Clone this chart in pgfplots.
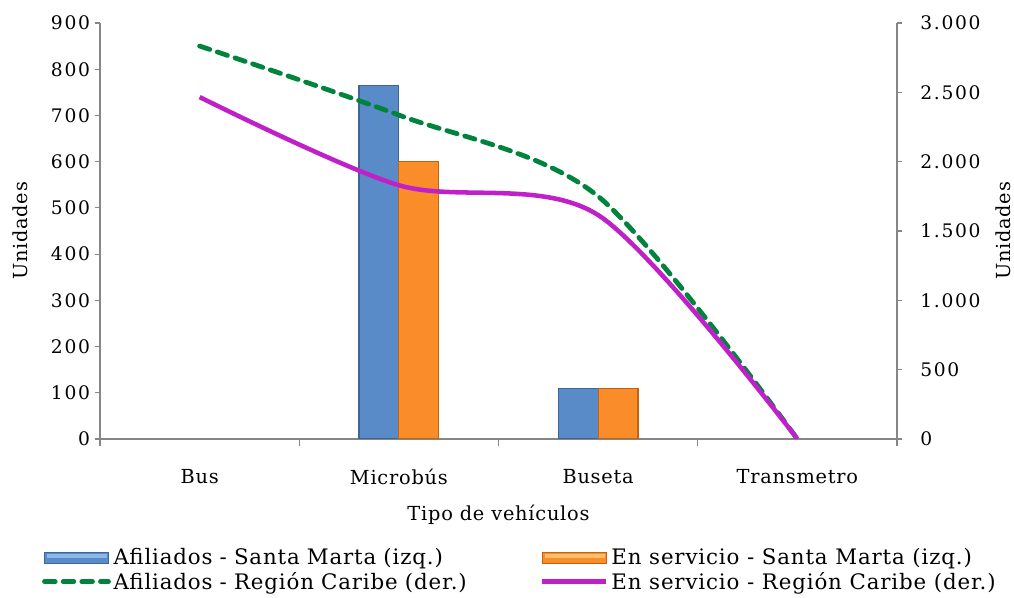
\documentclass[border=0pt]{standalone}
\usepackage{fontspec}
\setmainfont{DejaVu Serif}[LetterSpace=4]
\newfontfamily\tickfont{DejaVu Serif}[LetterSpace=9]
\usepackage{pgfplots}
\pgfplotsset{compat=1.18}
\definecolor{barblue}{HTML}{5A8BC9}
\definecolor{barbluedk}{HTML}{3D6698}
\definecolor{barbluelt}{HTML}{8DB6EA}
\definecolor{barorange}{HTML}{FB8C2A}
\definecolor{barorangedk}{HTML}{C06414}
\definecolor{barorangelt}{HTML}{FFBE6A}
\definecolor{lgreen}{HTML}{00843D}
\definecolor{lpurple}{HTML}{C020C8}
\definecolor{axgray}{HTML}{868686}

\begin{document}
\begin{tikzpicture}[font=\fontsize{14.5}{17}\selectfont]
\pgfplotsset{
  every axis/.append style={
    width=597.75pt, height=312pt, scale only axis,
    xmin=-0.5, xmax=3.5,
    axis line style={axgray, line width=0.8pt, -},
    tick style={axgray, line width=0.8pt},
    tick align=outside,
    /pgf/number format/assume math mode=true,
    scaled y ticks=false,
  }
}
\begin{axis}[
  name=main,
  ymin=0, ymax=900, ytick={0,100,...,900},
  axis x line*=bottom, axis y line*=left,
  yticklabel style={font=\fontsize{14}{16}\selectfont\tickfont},
  xtick={0,1,2,3}, xticklabels={Bus,Microbús,Buseta,Transmetro},
  minor xtick={-0.5,0.5,1.5,2.5,3.5},
  major x tick style={draw=none},
  minor tick length=5pt, major tick length=4pt,
  xticklabel style={yshift=-15pt},
  xlabel={Tipo de vehículos},
  xlabel style={at={(axis description cs:0.5,-0.183)}, anchor=center},
  ylabel={Unidades},
  ylabel style={at={(axis description cs:-0.1,0.5)}, anchor=center},
  ybar, bar width=0.2,
  y filter/.expression={y==0 ? nan : y},
]
\addplot[bar shift=-0.1, draw=barbluedk, fill=barblue, line width=0.8pt]
  coordinates {(0,0) (1,764) (2,110) (3,0)};
\addplot[bar shift=0.1, draw=barorangedk, fill=barorange, line width=0.8pt]
  coordinates {(0,0) (1,601) (2,110) (3,0)};
\end{axis}
\begin{axis}[
  ymin=0, ymax=3000, ytick={0,500,...,3000},
  axis y line*=right, axis x line=none,
  major tick length=4pt,
  yticklabel style={font=\fontsize{14}{16}\selectfont\tickfont,
    /pgf/number format/1000 sep={.}, anchor=west},
  yticklabel shift=10pt,
  ylabel={Unidades},
  ylabel style={at={(axis description cs:1.133,0.5)}, anchor=center},
  legend image code/.code={\draw[#1] (0pt,0pt) -- (48pt,0pt);},
  legend style={at={(axis description cs:-0.078,-0.25)}, anchor=north west,
    draw=none, legend columns=2, font=\fontsize{16}{18}\selectfont,
    /tikz/column 2/.style={text width=318pt},
    /tikz/every even column/.append style={column sep=0pt},
    row sep=0pt,
    cells={anchor=west}},
]
\addlegendimage{legend image code/.code={\draw[draw=barbluedk, fill=barblue, line width=0.8pt] (0pt,-4pt) rectangle (48pt,4pt); \fill[barbluelt] (2pt,0.5pt) rectangle (46pt,2.5pt);}}
\addlegendentry{Afiliados - Santa Marta (izq.)}
\addlegendimage{legend image code/.code={\draw[draw=barorangedk, fill=barorange, line width=0.8pt] (0pt,-4pt) rectangle (48pt,4pt); \fill[barorangelt] (2pt,0.5pt) rectangle (46pt,2.5pt);}}
\addlegendentry{En servicio - Santa Marta (izq.)}
\addplot[lgreen, line width=3.6pt, dash pattern=on 8pt off 6pt, line cap=round, smooth]
  coordinates {(0,2834) (1,2336) (2,1750) (3,0)};
\addlegendentry{Afiliados - Región Caribe (der.)}
\addplot[lpurple, line width=3.4pt, smooth]
  coordinates {(0,2466) (1,1830) (2,1615) (3,0)};
\addlegendentry{En servicio - Región Caribe (der.)}
\end{axis}
\pgfresetboundingbox
\path ([xshift=-75pt,yshift=-119.25pt]main.south west) rectangle ([xshift=87.75pt,yshift=17.25pt]main.north east);
\end{tikzpicture}
\end{document}
